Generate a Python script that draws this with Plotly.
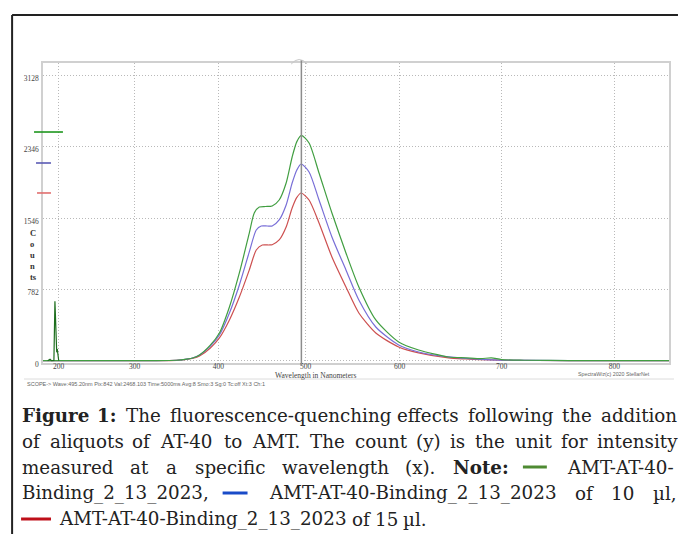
import numpy as np
import plotly.graph_objects as go

# ---------------- data ----------------
# wavelength (nm) -> detector pixel calibration used by the instrument's x axis
cal_nm = [180, 200, 300, 400, 500, 600, 700, 800, 845]
cal_px = [0, 51, 300, 574, 859, 1167, 1500, 1869, 2048]

tick_nm = [200, 300, 400, 500, 600, 700, 800]
tick_nm_text = ["200", "300", "400", "500", "600", "700", "800"]

y_tick_vals = [0, 782, 1564, 2346, 3128]
y_tick_text = ["0", "782", "1546", "2346", "3128"]

green_nm = [180, 250, 320, 350, 362, 370, 377.4, 390, 401.1, 412.6, 424, 435.4, 441.1, 446.9, 454,
            461.7, 469.7, 477.7, 484.6, 490, 495.2, 503.7, 514.3, 528, 542.9, 556.6, 574.6, 598.9,
            618.6, 648, 665, 680, 690, 700, 720, 760, 845]
green_val = [3, 3, 4, 8, 20, 35, 66, 170, 306, 591, 963, 1400, 1619, 1685, 1690,
             1696, 1761, 1947, 2232, 2400, 2468, 2385, 2057, 1619, 1182, 810, 449, 208,
             120, 44, 35, 25, 35, 15, 8, 5, 4]

blue_nm = [180, 250, 320, 350, 362, 370, 377.4, 390, 401.1, 412.6, 424, 435.4, 443.4, 449.1, 456,
           461.7, 469.7, 477.7, 484.6, 490, 494.9, 503.7, 514.3, 528, 542.9, 556.6, 574.6, 598.9,
           618.6, 648, 665, 680, 700, 760, 845]
blue_val = [3, 3, 4, 8, 20, 35, 66, 160, 284, 525, 832, 1193, 1433, 1477, 1477,
            1477, 1543, 1707, 1947, 2090, 2155, 2068, 1761, 1357, 996, 667, 372, 175,
            98, 44, 28, 18, 10, 5, 4]

red_nm = [180, 250, 320, 350, 362, 370, 377.4, 390, 401.1, 412.6, 424, 435.4, 443.4, 450.3, 458,
          461.7, 469.7, 477.7, 484.6, 490, 494.9, 503.7, 514.3, 528, 542.9, 556.6, 574.6, 598.9,
          618.6, 648, 665, 680, 700, 760, 845]
red_val = [3, 3, 4, 7, 17, 30, 55, 140, 252, 449, 700, 996, 1214, 1269, 1269,
           1272, 1324, 1466, 1674, 1790, 1838, 1761, 1510, 1138, 810, 525, 306, 153,
           88, 33, 22, 14, 8, 4, 3]

# narrow excitation spike near 195 nm
spike_nm = [186, 189, 191, 194.0, 195.3, 196.2, 197.0, 197.6, 198.3, 199.2, 200.2]
spike_val = [3, 18, 3, 5, 654, 300, 110, 95, 130, 40, 3]

# peak level markers drawn at the left of the plot
peak_marks = [2505, 2166, 1838]

cursor_nm = 495.2

# ---------------- helpers ----------------
L, R, T, B = 43, 671, 63, 363
PW, PH = R - L, B - T


def px(x):
    return (x - L) / PW


def py(y):
    return (B - y) / PH


def to_px(nm):
    return np.interp(np.asarray(nm, dtype=float), cal_nm, cal_px)


C_GREEN = "rgb(65,158,65)"
C_BLUE = "rgb(120,110,215)"
C_RED = "rgb(205,80,80)"

fig = go.Figure()
for nm, val, col in [(red_nm, red_val, C_RED), (blue_nm, blue_val, C_BLUE), (green_nm, green_val, C_GREEN)]:
    fig.add_trace(go.Scatter(x=to_px(nm), y=val, mode="lines",
                             line=dict(color=col, width=1.2, shape="spline", smoothing=0.7),
                             hoverinfo="skip", showlegend=False))
fig.add_trace(go.Scatter(x=to_px(spike_nm), y=spike_val, mode="lines",
                         line=dict(color="rgb(30,110,30)", width=1.2),
                         hoverinfo="skip", showlegend=False))

shapes = []
# outer black border (top and left)
shapes.append(dict(type="line", xref="paper", yref="paper", x0=px(12), x1=px(680), y0=py(15), y1=py(15),
                   line=dict(color="#222", width=2)))
shapes.append(dict(type="line", xref="paper", yref="paper", x0=px(12), x1=px(12), y0=py(15), y1=py(536),
                   line=dict(color="#222", width=2)))
# cursor line with small cap at the top
cx = float(to_px(cursor_nm))
shapes.append(dict(type="line", xref="x", yref="paper", x0=cx, x1=cx,
                   y0=py(366), y1=py(60), line=dict(color="#8c8c8c", width=1.5)))
shapes.append(dict(type="path", xref="paper", yref="paper",
                   path="M %f,%f Q %f,%f %f,%f" % (px(292), py(64), px(300), py(55), px(308), py(64)),
                   line=dict(color="#c8c8c8", width=1)))
# peak level marks
mark_cols = ["rgb(30,150,30)", "rgb(90,90,180)", "rgb(225,110,110)"]
mark_x = [(34, 63), (36, 51), (37, 51)]
for v, c, (a, b) in zip(peak_marks, mark_cols, mark_x):
    shapes.append(dict(type="line", xref="paper", yref="y", x0=px(a), x1=px(b), y0=v, y1=v,
                       line=dict(color=c, width=1.6)))
# status bar separator
shapes.append(dict(type="line", xref="paper", yref="paper", x0=px(24), x1=px(676), y0=py(379), y1=py(379),
                   line=dict(color="#dcdcdc", width=1)))

annotations = []
SERIF = "Liberation Serif"
annotations.append(dict(text="<b>C<br>o<br>u<br>n<br>ts</b>", xref="paper", yref="paper", x=px(28), y=py(255),
                        xanchor="left", yanchor="middle", showarrow=False, align="left",
                        font=dict(family=SERIF, size=8.5, color="#333")))
annotations.append(dict(text="Wavelength in Nanometers", xref="paper", yref="paper", x=px(317), y=py(375),
                        xanchor="center", yanchor="middle", showarrow=False,
                        font=dict(family=SERIF, size=7.5, color="#444")))
annotations.append(dict(text="SCOPE-> Wave:495.20nm Pix:842 Val:2468.103 Time:5000ms Avg:8 Smo:3 Sg:0 Tc:off Xt:3 Ch:1",
                        xref="paper", yref="paper", x=px(25), y=py(384), xanchor="left", yanchor="middle",
                        showarrow=False, font=dict(family="Liberation Sans", size=5.5, color="#666")))
annotations.append(dict(text="SpectraWiz(c) 2020 StellarNet", xref="paper", yref="paper", x=px(578), y=py(374),
                        xanchor="left", yanchor="middle", showarrow=False,
                        font=dict(family="Liberation Sans", size=5.3, color="#666")))

# ---------------- caption (justified) ----------------
CAP_SIZE = 18.3
CAP = dict(family="DejaVu Serif", size=CAP_SIZE, color="#222")
EM = {" ": .318, "a": .596, "b": .640, "c": .560, "d": .640, "e": .592, "f": .370, "g": .640, "h": .644,
      "i": .320, "k": .610, "l": .320, "m": .948, "n": .644, "o": .602, "p": .640, "q": .640, "r": .478,
      "s": .513, "t": .402, "u": .644, "v": .565, "w": .856, "x": .564, "y": .565,
      "A": .722, "B": .735, "F": .684, "M": .995, "N": .837, "T": .675,
      "-": .338, "_": .500, ".": .318, ",": .318, ":": .337, "(": .390, ")": .390, "µ": .644}


def text_w(s, bold=False):
    w = sum(EM.get(ch, .636 if ch.isdigit() else .6) for ch in s) * CAP_SIZE * 0.985
    return w * (1.08 if bold else 1.0)


def cap_line(items, y, justify=True, x0=20, x1=676):
    # items: ("t", text, bold) or ("s", colour, width)
    widths = [text_w(it[1], it[2]) if it[0] == "t" else it[2] for it in items]
    if justify and len(items) > 1:
        gap = (x1 - x0 - sum(widths)) / (len(items) - 1)
    else:
        gap = EM[" "] * CAP_SIZE
    x = x0
    for it, w in zip(items, widths):
        if it[0] == "t":
            txt = "<b>%s</b>" % it[1] if it[2] else it[1]
            annotations.append(dict(text=txt, xref="paper", yref="paper", x=px(x), y=py(y), xanchor="left",
                                    yanchor="middle", showarrow=False, font=CAP))
        else:
            shapes.append(dict(type="line", xref="paper", yref="paper", x0=px(x), x1=px(x + w),
                               y0=py(y), y1=py(y), line=dict(color=it[1], width=3)))
        x += w + gap


def words(s, bold=False):
    return [("t", w, bold) for w in s.split(" ")]


Y1, Y2, Y3, Y4, Y5 = 415, 441, 467, 493, 519
cap_line(words("Figure 1:", True) + words("The fluorescence-quenching effects following the addition"), Y1)
cap_line(words("of aliquots of AT-40 to AMT. The count (y) is the unit for intensity"), Y2)
cap_line(words("measured at a specific wavelength (x).") + words("Note:", True)
         + [("s", "rgb(78,138,50)", 24)] + words("AMT-AT-40-"), Y3)
cap_line(words("Binding_2_13_2023,") + [("s", "rgb(25,75,200)", 25)]
         + words("AMT-AT-40-Binding_2_13_2023 of 10 µl,"), Y4)
cap_line([("s", "rgb(190,15,25)", 30)] + words("AMT-AT-40-Binding_2_13_2023 of 15 µl."), Y5,
         justify=False, x0=21)

fig.update_layout(
    width=678, height=534, autosize=False,
    margin=dict(l=L, r=678 - R, t=T, b=534 - B, pad=0),
    paper_bgcolor="white", plot_bgcolor="white", showlegend=False,
    shapes=shapes, annotations=annotations,
    xaxis=dict(range=[0, 2048], tickvals=list(to_px(tick_nm)), ticktext=tick_nm_text,
               showgrid=True, gridcolor="#b9b9b9", griddash="1px,2px", gridwidth=1, zeroline=False,
               showline=True, mirror=True, linecolor="#d0d0d0", linewidth=1.5, ticks="",
               ticklabelstandoff=-5,
               tickfont=dict(family=SERIF, size=7.5, color="#444"), fixedrange=True),
    yaxis=dict(range=[-22, 3260], tickvals=y_tick_vals, ticktext=y_tick_text,
               showgrid=True, gridcolor="#b9b9b9", griddash="1px,2px", gridwidth=1, zeroline=False,
               showline=True, mirror=True, linecolor="#d0d0d0", linewidth=1.5, ticks="",
               ticklabelshift=3, ticklabelstandoff=1,
               tickfont=dict(family=SERIF, size=7.5, color="#444"), fixedrange=True),
)

fig.write_html("out.html", config={"displayModeBar": False},
               post_script="document.body.style.margin='0px';document.body.style.overflow='hidden';")
